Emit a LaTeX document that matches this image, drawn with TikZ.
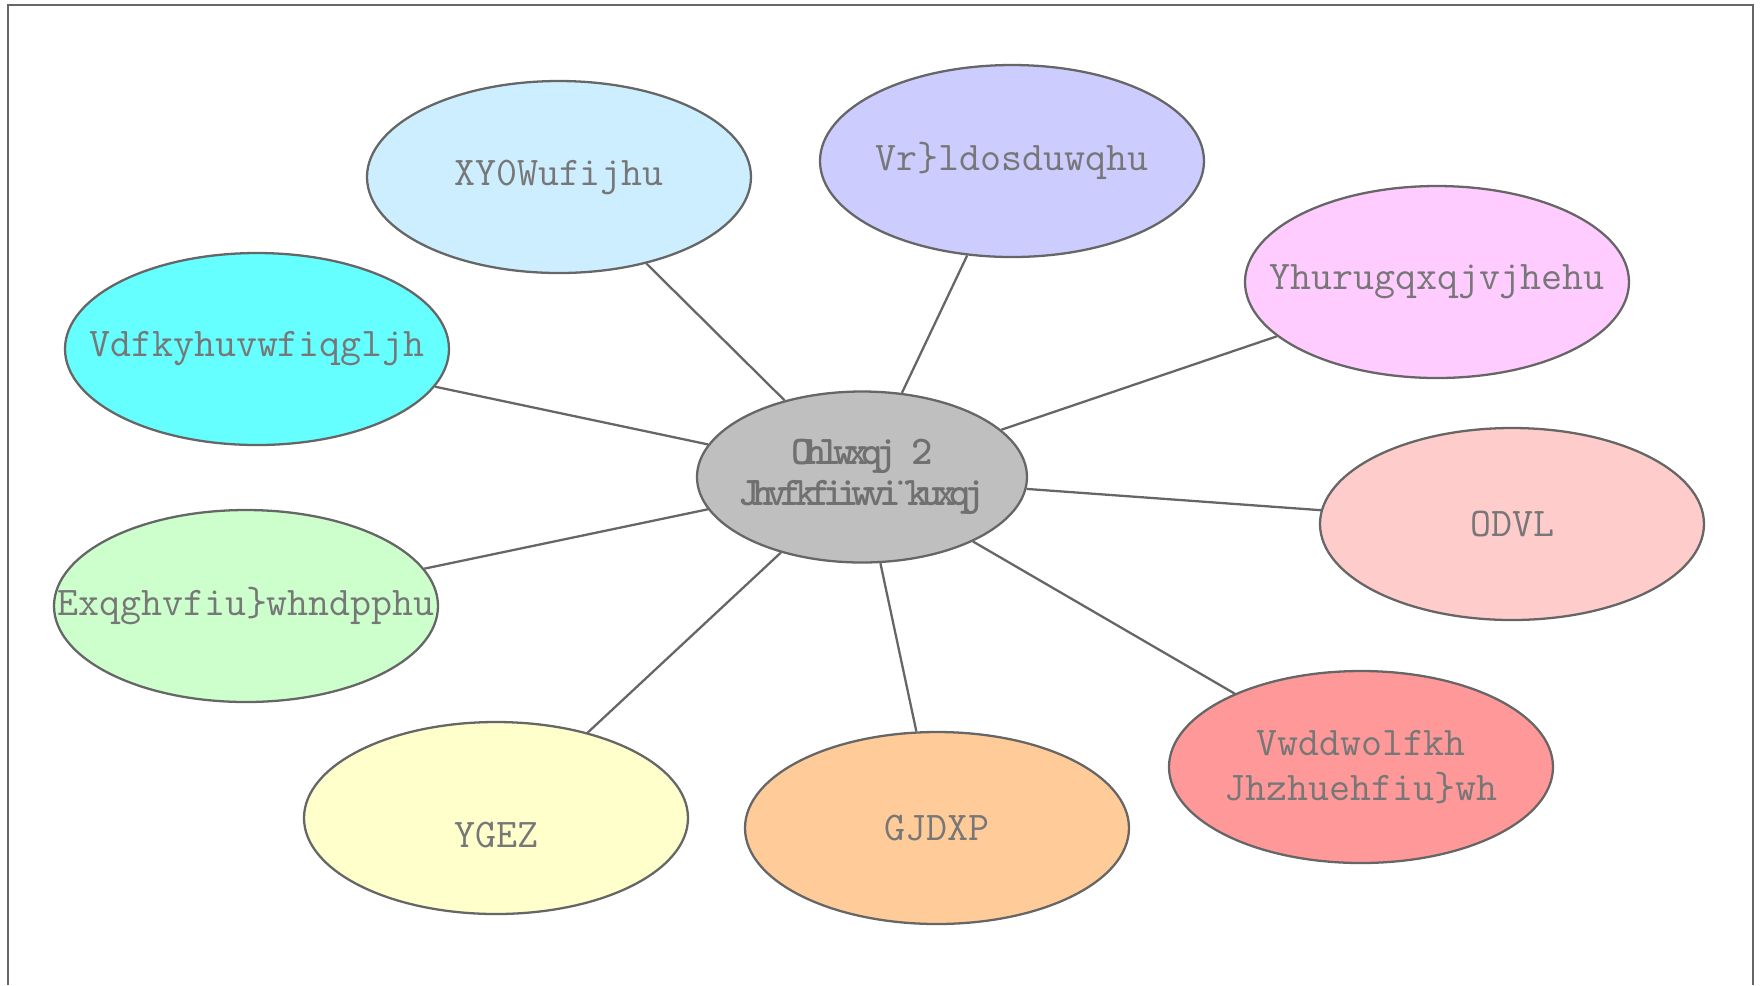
\documentclass[tikz,border=0pt]{standalone}
\usepackage{fontspec}
\usetikzlibrary{shapes.geometric}
\newfontfamily\hubfont{lmmonolt10-bold.otf}[LetterSpace=-18]
\definecolor{linegray}{HTML}{666666}
\definecolor{textgray}{HTML}{777777}
\definecolor{hubgray}{HTML}{BFBFBF}
% labels keep the bubble size: they get no width of their own
\newcommand{\lbl}[1]{\makebox[0pt]{#1}}
\tikzset{
	bubble/.style={ellipse, draw=linegray, line width=0.65pt, inner sep=0pt,
		minimum width=38.4mm, minimum height=19.2mm, align=center,
		text=textgray, font=\ttfamily\fontsize{11.6}{12.8}\selectfont},
	hub/.style={bubble, fill=hubgray, minimum width=33mm, minimum height=17.1mm,
		text={rgb,255:red,112;green,112;blue,112},
		font=\hubfont\fontsize{11.6}{11.5}\selectfont},
	link/.style={draw=linegray, line width=0.65pt}
}
\begin{document}
\begin{tikzpicture}[x=0.1mm, y=-0.1mm]
	\useasboundingbox (0,0) rectangle (1761,985);
	%frame
	\draw[linegray, line width=0.65pt] (8,985) -- (8,5) -- (1753,5) -- (1753,985);
	
	%center
	\node (hub) at (862,477) [hub]{\lbl{Ohlwxqj 2}\\\lbl{Jhvfkfiiwvi¨kuxqj}};
	
	%outer bubbles
	\node (uv) at (559,177) [bubble, fill={rgb,255:red,204;green,238;blue,255}]{\lbl{XY0Wufijhu}};
	\node (sozial) at (1012,161) [bubble, fill={rgb,255:red,204;green,204;blue,255}]{\lbl{Vr\}ldosduwqhu}};
	\node (verord) at (1437,282) [bubble, fill={rgb,255:red,255;green,204;blue,255}]{\lbl{Yhurugqxqjvjhehu}};
	\node (lasi) at (1512,524) [bubble, fill={rgb,255:red,255;green,204;blue,204}]{\lbl{ODVL}};
	\node (staat) at (1361,767) [bubble, fill={rgb,255:red,255;green,153;blue,153}]{\lbl{Vwddwolfkh}\\\lbl{Jhzhuehfiu\}wh}};
	\node (dgaum) at (937,828) [bubble, fill={rgb,255:red,255;green,204;blue,153}]{\lbl{GJDXP}};
	\node (vdbw) at (496,818) [bubble, fill={rgb,255:red,255;green,255;blue,204}, text height=6mm]{\lbl{YGEZ}};
	\node (baek) at (246,606) [bubble, fill={rgb,255:red,204;green,255;blue,204}]{\lbl{Exqghvfiu\}whndpphu}};
	\node (sachv) at (257,349) [bubble, fill={rgb,255:red,102;green,255;blue,255}]{\lbl{Vdfkyhuvwfiqgljh}};
	
	%links
	\foreach \n in {uv, sozial, verord, lasi, staat, dgaum, vdbw, baek, sachv}{
		\draw[link] (hub) -- (\n);
	}
\end{tikzpicture}
\end{document}
